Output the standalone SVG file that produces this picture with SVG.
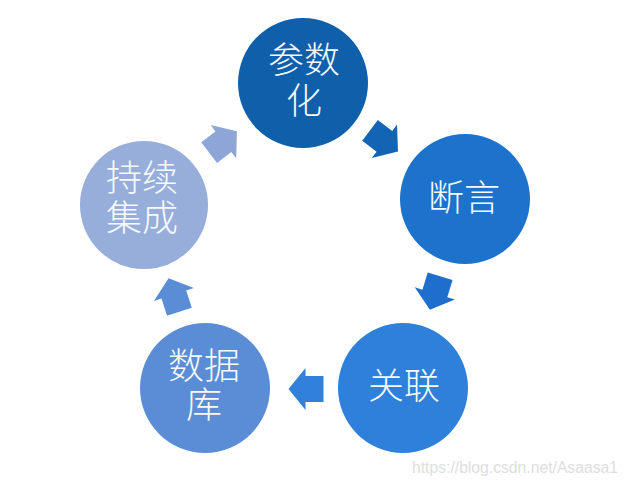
<svg xmlns="http://www.w3.org/2000/svg" width="627" height="483" viewBox="0 0 627 483">
  <style>
    .lbl { font-family: "Noto Sans CJK SC", "Noto Sans", sans-serif; font-size: 36px; font-weight: 300; fill: #F7F9FC; text-anchor: middle; }
    .wm { font-family: "Liberation Sans", Arial, sans-serif; font-size: 16px; fill: #DEDEDE; }
  </style>
  <defs>
    <polygon id="arr" points="-17.5,-13 0.5,-13 0.5,-21 17.5,0 0.5,21 0.5,13 -17.5,13"/>
  </defs>
  <rect width="627" height="483" fill="#FFFFFF"/>

  <g id="connectors">
    <use href="#arr" fill="#8EA6D7" transform="translate(223,142) rotate(-37.5)"/>
    <use href="#arr" fill="#1464B6" transform="translate(384,141) rotate(37)"/>
    <use href="#arr" fill="#1E6FCD" transform="translate(435,293) rotate(107)"/>
    <use href="#arr" fill="#3180DA" transform="translate(306,389) rotate(180)"/>
    <use href="#arr" fill="#5B8DD6" transform="translate(174,295) rotate(-108)"/>
  </g>

  <g id="node-canshuhua">
    <circle cx="303" cy="83" r="65" fill="#105FAB"/>
    <text class="lbl"><tspan x="304" y="73">参数</tspan><tspan x="304" y="114">化</tspan></text>
  </g>
  <g id="node-duanyan">
    <circle cx="465" cy="199" r="65" fill="#1D72CB"/>
    <text class="lbl" x="464" y="211">断言</text>
  </g>
  <g id="node-guanlian">
    <circle cx="403" cy="388" r="65" fill="#2F80DA"/>
    <text class="lbl" x="404" y="399">关联</text>
  </g>
  <g id="node-shujuku">
    <circle cx="205" cy="388" r="65" fill="#5B8DD6"/>
    <text class="lbl"><tspan x="204" y="379">数据</tspan><tspan x="204" y="418">库</tspan></text>
  </g>
  <g id="node-chixujicheng">
    <circle cx="144" cy="205" r="64" fill="#97ADDA"/>
    <text class="lbl"><tspan x="142" y="191">持续</tspan><tspan x="142" y="231">集成</tspan></text>
  </g>

  <text class="wm" x="412" y="473" textLength="206" lengthAdjust="spacingAndGlyphs">https://blog.csdn.net/Asaasa1</text>
</svg>
